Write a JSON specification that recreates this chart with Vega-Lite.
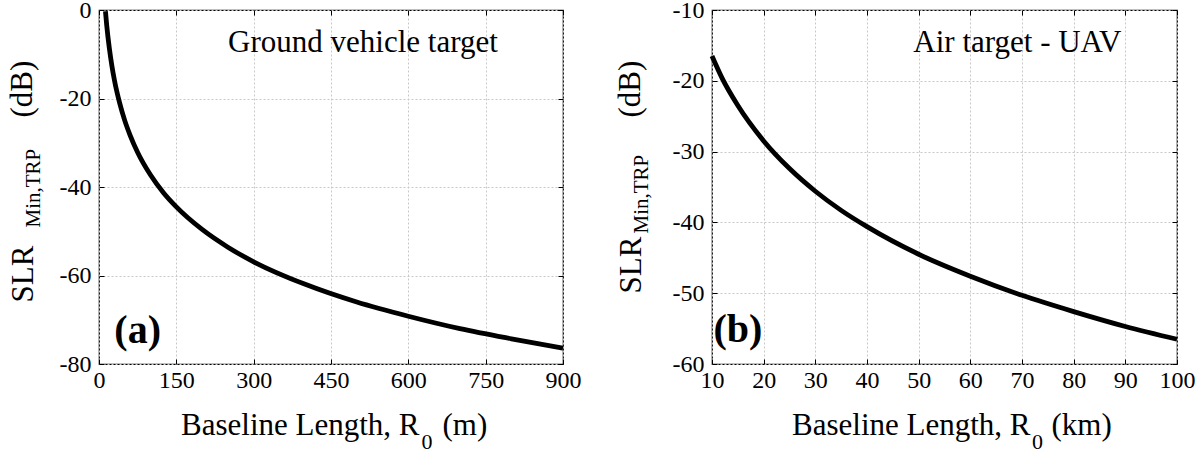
{
  "$schema": "https://vega.github.io/schema/vega-lite/v6.json",
  "background": "white",
  "autosize": {"type": "pad"},
  "padding": {"left": 5, "top": -3, "right": 0, "bottom": 0},
  "config": {
    "font": "Liberation Serif",
    "view": {"stroke": "black", "strokeWidth": 1.2},
    "axis": {
      "labelFont": "Liberation Serif", "labelFontSize": 24, "labelColor": "black",
      "titleFont": "Liberation Serif", "titleColor": "black", "titleFontWeight": "normal", "titleFontSize": 31,
      "domainColor": "black", "tickColor": "black", "gridColor": "#c8c8c8", "gridDash": [2, 2],
      "labelFlush": false, "labelOverlap": false, "labelExpr": "'' + datum.value"
    }
  },
  "bounds": "flush",
  "spacing": 149,
  "datasets": {
    "ground": [
      {"R": 12.5, "SLR": -0.3}, {"R": 15, "SLR": -3.5}, {"R": 20, "SLR": -8.6}, {"R": 25, "SLR": -12.6},
      {"R": 30, "SLR": -15.9}, {"R": 40, "SLR": -21.0}, {"R": 50, "SLR": -25.0}, {"R": 60, "SLR": -28.2},
      {"R": 75, "SLR": -32.2}, {"R": 100, "SLR": -37.3}, {"R": 125, "SLR": -41.3}, {"R": 150, "SLR": -44.5},
      {"R": 200, "SLR": -49.6}, {"R": 250, "SLR": -53.6}, {"R": 300, "SLR": -56.9}, {"R": 400, "SLR": -62.0},
      {"R": 500, "SLR": -66.0}, {"R": 600, "SLR": -69.2}, {"R": 700, "SLR": -72.0}, {"R": 800, "SLR": -74.3},
      {"R": 900, "SLR": -76.4}
    ],
    "air": [
      {"R": 10, "SLR": -16.5}, {"R": 12, "SLR": -19.7}, {"R": 15, "SLR": -23.5}, {"R": 20, "SLR": -28.5},
      {"R": 25, "SLR": -32.4}, {"R": 30, "SLR": -35.6}, {"R": 35, "SLR": -38.3}, {"R": 40, "SLR": -40.6},
      {"R": 50, "SLR": -44.5}, {"R": 60, "SLR": -47.6}, {"R": 70, "SLR": -50.3}, {"R": 80, "SLR": -52.6},
      {"R": 90, "SLR": -54.7}, {"R": 100, "SLR": -56.5}
    ]
  },
  "hconcat": [
    {
      "width": 464, "height": 354,
      "resolve": {"axis": {"x": "independent", "y": "independent"}},
      "layer": [
        {
          "data": {"name": "ground"},
          "mark": {"type": "line", "color": "black", "strokeWidth": 4.8, "interpolate": "monotone"},
          "encoding": {
            "x": {"field": "R", "type": "quantitative", "scale": {"domain": [0, 900], "nice": false, "zero": false},
              "axis": {"orient": "bottom", "values": [0, 150, 300, 450, 600, 750, 900], "tickSize": -5, "labelPadding": 28, "labelBaseline": "alphabetic", "labelFont": "Times New Roman", "labelFontSize": 24, "domain": false, "grid": true,
                "title": "Baseline Length, R", "titleAlign": "right", "titleBaseline": "alphabetic", "titleX": 320, "titleY": 70}},
            "y": {"field": "SLR", "type": "quantitative", "scale": {"domain": [-80, 0], "nice": false, "zero": false},
              "axis": {"orient": "left", "values": [-80, -60, -40, -20, 0], "tickSize": -5, "labelPadding": 13, "labelFont": "Times New Roman", "labelFontSize": 24, "domain": false, "grid": true,
                "title": "SLR", "titleAngle": 270, "titleAlign": "left", "titleBaseline": "alphabetic", "titleX": -67, "titleY": 292}}
          }
        },
        {
          "data": {"values": [{"label": "Ground vehicle target"}]},
          "mark": {"type": "text", "fontSize": 31, "font": "Liberation Serif", "color": "black", "align": "center", "baseline": "alphabetic"},
          "encoding": {
            "x": {"datum": 512, "type": "quantitative", "scale": {"domain": [0, 900], "nice": false, "zero": false},
              "axis": {"orient": "top", "values": [0, 150, 300, 450, 600, 750, 900], "tickSize": -5, "labels": false, "domain": false, "grid": false, "title": null}},
            "y": {"datum": -9.5, "type": "quantitative", "scale": {"domain": [-80, 0], "nice": false, "zero": false},
              "axis": {"orient": "right", "values": [-80, -60, -40, -20, 0], "tickSize": -5, "labels": false, "domain": false, "grid": false, "title": null}},
            "text": {"field": "label"}
          }
        },
        {
          "data": {"values": [{"label": "(a)"}]},
          "mark": {"type": "text", "fontSize": 40, "fontWeight": "bold", "font": "Liberation Serif", "color": "black", "align": "center", "baseline": "alphabetic"},
          "encoding": {
            "x": {"datum": 75, "type": "quantitative", "scale": {"domain": [0, 900], "nice": false, "zero": false},
              "axis": {"orient": "bottom", "ticks": false, "labels": false, "domain": false, "grid": false,
                "title": "0", "titleFontSize": 22, "titleAlign": "center", "titleBaseline": "alphabetic", "titleX": 327.5, "titleY": 84}},
            "y": {"datum": -75.3, "type": "quantitative", "scale": {"domain": [-80, 0], "nice": false, "zero": false},
              "axis": {"orient": "left", "ticks": false, "labels": false, "domain": false, "grid": false,
                "title": "Min,TRP", "titleFontSize": 21, "titleAngle": 270, "titleAlign": "left", "titleBaseline": "alphabetic", "titleX": -60, "titleY": 217}},
            "text": {"field": "label"}
          }
        },
        {
          "data": {"values": [{"label": ""}]},
          "mark": {"type": "text"},
          "encoding": {
            "x": {"datum": 450, "type": "quantitative", "scale": {"domain": [0, 900], "nice": false, "zero": false},
              "axis": {"orient": "bottom", "ticks": false, "labels": false, "domain": false, "grid": false,
                "title": "(m)", "titleAlign": "left", "titleBaseline": "alphabetic", "titleX": 343, "titleY": 70}},
            "y": {"datum": -40, "type": "quantitative", "scale": {"domain": [-80, 0], "nice": false, "zero": false},
              "axis": {"orient": "left", "ticks": false, "labels": false, "domain": false, "grid": false,
                "title": "(dB)", "titleAngle": 270, "titleAlign": "left", "titleBaseline": "alphabetic", "titleX": -68, "titleY": 107}},
            "text": {"field": "label"}
          }
        }
      ]
    },
    {
      "width": 465, "height": 354,
      "resolve": {"axis": {"x": "independent", "y": "independent"}},
      "layer": [
        {
          "data": {"name": "air"},
          "mark": {"type": "line", "color": "black", "strokeWidth": 4.8, "interpolate": "monotone"},
          "encoding": {
            "x": {"field": "R", "type": "quantitative", "scale": {"domain": [10, 100], "nice": false, "zero": false},
              "axis": {"orient": "bottom", "values": [10, 20, 30, 40, 50, 60, 70, 80, 90, 100], "tickSize": -5, "labelPadding": 28, "labelBaseline": "alphabetic", "labelFont": "Times New Roman", "labelFontSize": 24, "domain": false, "grid": true,
                "title": "Baseline Length, R", "titleAlign": "right", "titleBaseline": "alphabetic", "titleX": 318, "titleY": 70}},
            "y": {"field": "SLR", "type": "quantitative", "scale": {"domain": [-60, -10], "nice": false, "zero": false},
              "axis": {"orient": "left", "values": [-60, -50, -40, -30, -20, -10], "tickSize": -5, "labelPadding": 13, "labelFont": "Times New Roman", "labelFontSize": 24, "domain": false, "grid": true,
                "title": "SLR", "titleAngle": 270, "titleAlign": "left", "titleBaseline": "alphabetic", "titleX": -72, "titleY": 283}}
          }
        },
        {
          "data": {"values": [{"label": "Air target - UAV"}]},
          "mark": {"type": "text", "fontSize": 31, "font": "Liberation Serif", "color": "black", "align": "center", "baseline": "alphabetic"},
          "encoding": {
            "x": {"datum": 69.1, "type": "quantitative", "scale": {"domain": [10, 100], "nice": false, "zero": false},
              "axis": {"orient": "top", "values": [10, 20, 30, 40, 50, 60, 70, 80, 90, 100], "tickSize": -5, "labels": false, "domain": false, "grid": false, "title": null}},
            "y": {"datum": -16.0, "type": "quantitative", "scale": {"domain": [-60, -10], "nice": false, "zero": false},
              "axis": {"orient": "right", "values": [-60, -50, -40, -30, -20, -10], "tickSize": -5, "labels": false, "domain": false, "grid": false, "title": null}},
            "text": {"field": "label"}
          }
        },
        {
          "data": {"values": [{"label": "(b)"}]},
          "mark": {"type": "text", "fontSize": 40, "fontWeight": "bold", "font": "Liberation Serif", "color": "black", "align": "center", "baseline": "alphabetic"},
          "encoding": {
            "x": {"datum": 15, "type": "quantitative", "scale": {"domain": [10, 100], "nice": false, "zero": false},
              "axis": {"orient": "bottom", "ticks": false, "labels": false, "domain": false, "grid": false,
                "title": "0", "titleFontSize": 22, "titleAlign": "center", "titleBaseline": "alphabetic", "titleX": 325, "titleY": 84}},
            "y": {"datum": -56.9, "type": "quantitative", "scale": {"domain": [-60, -10], "nice": false, "zero": false},
              "axis": {"orient": "left", "ticks": false, "labels": false, "domain": false, "grid": false,
                "title": "Min,TRP", "titleFontSize": 21, "titleAngle": 270, "titleAlign": "left", "titleBaseline": "alphabetic", "titleX": -65, "titleY": 223}},
            "text": {"field": "label"}
          }
        },
        {
          "data": {"values": [{"label": ""}]},
          "mark": {"type": "text"},
          "encoding": {
            "x": {"datum": 50, "type": "quantitative", "scale": {"domain": [10, 100], "nice": false, "zero": false},
              "axis": {"orient": "bottom", "ticks": false, "labels": false, "domain": false, "grid": false,
                "title": "(km)", "titleAlign": "left", "titleBaseline": "alphabetic", "titleX": 339, "titleY": 70}},
            "y": {"datum": -35, "type": "quantitative", "scale": {"domain": [-60, -10], "nice": false, "zero": false},
              "axis": {"orient": "left", "ticks": false, "labels": false, "domain": false, "grid": false,
                "title": "(dB)", "titleAngle": 270, "titleAlign": "left", "titleBaseline": "alphabetic", "titleX": -73, "titleY": 107}},
            "text": {"field": "label"}
          }
        }
      ]
    }
  ]
}
